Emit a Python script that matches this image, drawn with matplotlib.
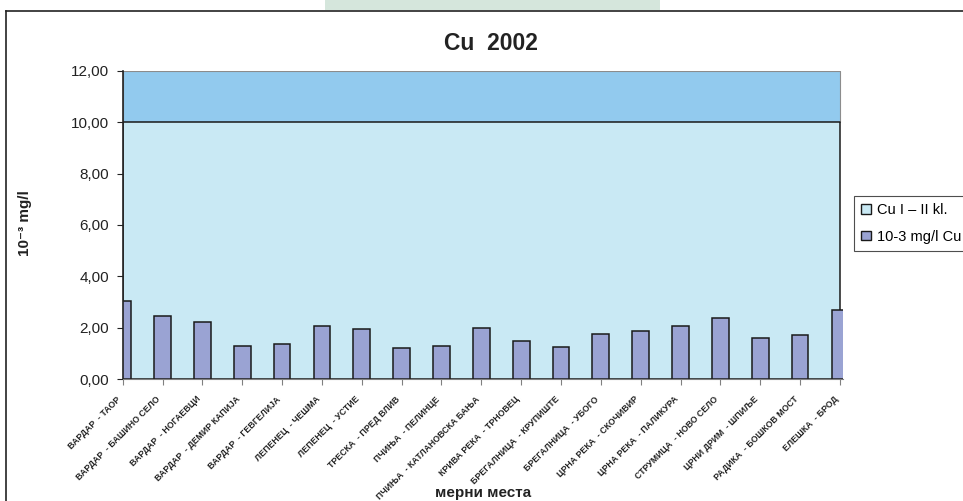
import matplotlib
matplotlib.use('Agg')
import matplotlib.pyplot as plt
from matplotlib.patches import Patch, Rectangle
from matplotlib.lines import Line2D

plt.rcParams['font.family'] = ['Liberation Sans', 'DejaVu Sans']

# мерни места
stations = [
    'ВАРДАР  - ТАОР', 'ВАРДАР  - БАШИНО СЕЛО', 'ВАРДАР  - НОГАЕВЦИ',
    'ВАРДАР  - ДЕМИР КАПИЈА', 'ВАРДАР  - ГЕВГЕЛИЈА', 'ЛЕПЕНЕЦ  - ЧЕШМА',
    'ЛЕПЕНЕЦ  - УСТИЕ', 'ТРЕСКА  - ПРЕД ВЛИВ', 'ПЧИЊА  - ПЕЛИНЦЕ',
    'ПЧИЊА  - КАТЛАНОВСКА БАЊА', 'КРИВА РЕКА  - ТРНОВЕЦ',
    'БРЕГАЛНИЦА  - КРУПИШТЕ', 'БРЕГАЛНИЦА  - УБОГО',
    'ЦРНА РЕКА  - СКОЧИВИР', 'ЦРНА РЕКА  - ПАЛИКУРА',
    'СТРУМИЦА  - НОВО СЕЛО', 'ЦРНИ ДРИМ  - ШПИЉЕ',
    'РАДИКА  - БОШКОВ МОСТ', 'ЕЛЕШКА  - БРОД',
]
# 10-3 mg/l Cu
cu_values = [3.03, 2.46, 2.23, 1.31, 1.39, 2.06, 1.94, 1.20, 1.31, 2.01,
             1.49, 1.26, 1.77, 1.89, 2.06, 2.40, 1.61, 1.73, 2.68]
# граница I - II класа
class_limit = 10.0
y_max = 12.0
ytick_values = [0, 2, 4, 6, 8, 10, 12]
ytick_labels = ['0,00', '2,00', '4,00', '6,00', '8,00', '10,00', '12,00']

fig = plt.figure(figsize=(9.63, 5.01), dpi=100)
W, H = 963, 501

# рамка и горниот зелен правоаголник
fig.add_artist(Rectangle((325 / W, 1 - 9.5 / H), 335 / W, 9.5 / H,
                         transform=fig.transFigure, facecolor='#D5E6DC',
                         edgecolor='none'))
fig.add_artist(Line2D([6.3 / W, 1], [1 - 10.7 / H, 1 - 10.7 / H],
                      transform=fig.transFigure, color='#222222', lw=1.2))
fig.add_artist(Line2D([6.3 / W, 6.3 / W], [0, 1 - 10.7 / H],
                      transform=fig.transFigure, color='#222222', lw=1.2))

ax = fig.add_axes([122.7 / W, 1 - 379.3 / H, 720 / W, 308.6 / H])
x = list(range(len(stations)))
n_last = len(stations) - 1

# позадина на плот областа (10-12)
ax.fill_between([0, n_last], class_limit, y_max, color='#92CAEE',
                edgecolor='#8c8c8c', lw=0.8, zorder=0)
# површина Cu I - II kl.
ax.fill_between([0, n_last], 0, class_limit, facecolor='#C9E9F4',
                edgecolor='#1a1a1a', lw=1.1, zorder=1)
ax.bar(x, cu_values, width=0.42, color='#9AA3D3', edgecolor='#1a1a1a',
       linewidth=1.1, zorder=3)

ax.set_xlim(0, n_last + 0.07)
ax.set_ylim(0, y_max)
ax.set_yticks(ytick_values)
ax.set_yticklabels(ytick_labels, fontsize=11, color='#222222')
ax.set_xticks(x)
ax.set_xticklabels(stations, rotation=45, ha='right', fontsize=6.3,
                   fontweight='bold', color='#222222')
ax.tick_params(axis='x', length=4, color='#808080', pad=7)
ax.tick_params(axis='y', length=4, color='#222222', pad=6)

for side in ['top', 'right']:
    ax.spines[side].set_visible(False)
ax.spines['left'].set_color('#222222')
ax.spines['left'].set_linewidth(1.2)
ax.spines['left'].set_zorder(4)
ax.spines['bottom'].set_color('#808080')
ax.spines['bottom'].set_zorder(4)

ax.set_ylabel('10⁻³ mg/l', fontsize=11, fontweight='bold', color='#222222')
ax.yaxis.set_label_coords((32 - 122.7) / 720, 0.505)

fig.text(490.5 / W, 1 - 44 / H, 'Cu  2002', fontsize=16.5, fontweight='bold',
         ha='center', va='center', color='#222222')
fig.text(483 / W, 1 - 497 / H, 'мерни места', fontsize=11, fontweight='bold',
         ha='center', va='baseline', color='#222222')

handles = [Patch(facecolor='#C9E9F4', edgecolor='#1a1a1a', lw=1.0),
           Patch(facecolor='#9AA3D3', edgecolor='#1a1a1a', lw=1.0)]
leg = fig.legend(handles, ['Cu I – II kl.', '10-3 mg/l Cu'],
                 loc='upper left', bbox_to_anchor=(854 / W, 1 - 196 / H),
                 borderaxespad=0, fontsize=10.5, frameon=True, fancybox=False,
                 handlelength=0.65, handleheight=0.65, handletextpad=0.4,
                 labelspacing=0.85, borderpad=0.5)
leg.get_frame().set_edgecolor('#222222')
leg.get_frame().set_linewidth(0.8)

fig.savefig('out.png', dpi=100)
